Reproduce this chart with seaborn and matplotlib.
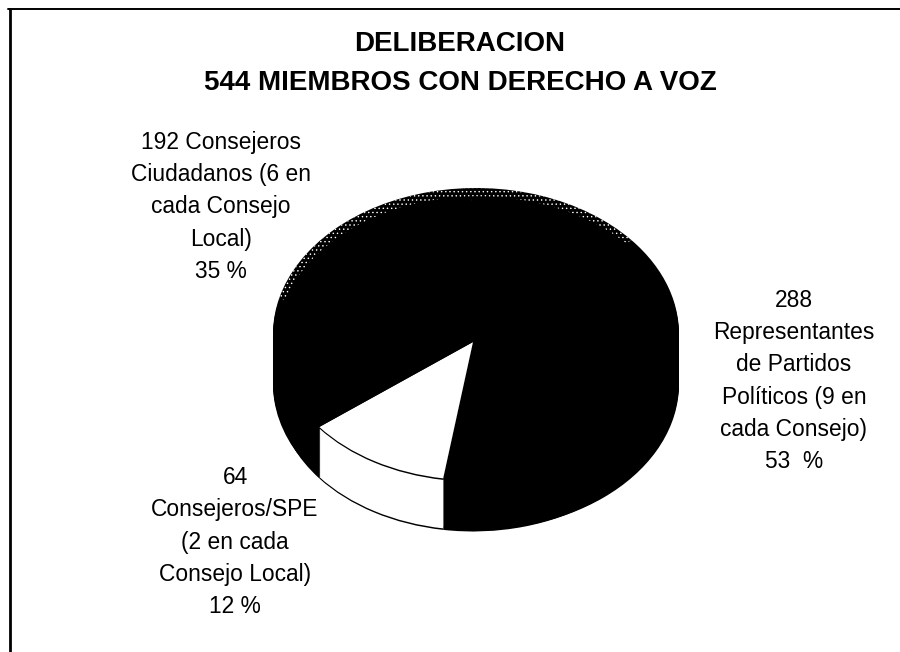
"""
Deliberacion 3D pie chart, members with voice in the local councils.
"""

import matplotlib.pyplot as plt
import seaborn as sns

# Data
shares = [53, 12, 35]
labels = [
    "288\nRepresentantes\nde Partidos\nPolíticos (9 en\ncada Consejo)\n53  %",
    "64\nConsejeros/SPE\n(2 en cada\nConsejo Local)\n12 %",
    "192 Consejeros\nCiudadanos (6 en\ncada Consejo\nLocal)\n35 %",
]
title_lines = ["DELIBERACION", "544 MIEMBROS CON DERECHO A VOZ"]

WIDTH, HEIGHT = 900, 652
slice_colors = ["black", "white", "black"]
all_black = ["black"] * 3

sns.set_theme(style="white")
plt.rcParams["font.family"] = ["Liberation Sans", "DejaVu Sans"]
plt.rcParams["hatch.linewidth"] = 0.5


def squashed_axes(fig, rx, ry):
    # full-figure axes in pixels, y stretched so a circle of radius rx looks like an ellipse
    ax = fig.add_axes([0, 0, 1, 1], facecolor="none")
    ax.squash = ry / rx
    return ax


def to_y(ax, py):
    return (HEIGHT - py) / ax.squash


def draw_pie(ax, cx, cy, rx, colors, **kwargs):
    wedge = kwargs.pop("wedgeprops", {"linewidth": 0})
    ax.pie(shares, colors=colors, startangle=kwargs.pop("startangle", 92),
           counterclock=kwargs.pop("counterclock", False),
           center=(cx, to_y(ax, cy)), radius=rx, wedgeprops=wedge, **kwargs)


def fix_limits(ax):
    ax.set_aspect("auto")
    ax.set_xlim(0, WIDTH)
    ax.set_ylim(0, HEIGHT / ax.squash)
    ax.axis("off")


fig = plt.figure(figsize=(WIDTH / 100, HEIGHT / 100), dpi=100, facecolor="white")

# Body of the pie, a little taller than the front because of the perspective
body = squashed_axes(fig, 203, 146)
for depth in range(50, 1, -2):
    draw_pie(body, 476, 334 + depth, 203, all_black)
# speckled back rim, only the last wedge is hatched
draw_pie(body, 476, 334, 203, all_black, startangle=166, counterclock=True,
         hatch=[None, None, "...."],
         wedgeprops={"linewidth": 0, "edgecolor": "white"})
draw_pie(body, 478, 341, 201, all_black)
fix_limits(body)

# Front part, carries the slices
front = squashed_axes(fig, 195, 138)
draw_pie(front, 473, 393.5, 195, all_black)  # peeks out as the lower outline
for depth in range(50, 1, -1):
    draw_pie(front, 473, 342 + depth, 195, slice_colors)
draw_pie(front, 473, 343.5, 195, all_black)  # upper outline
draw_pie(front, 473, 342, 195, slice_colors)
fix_limits(front)

# Frame and text on a plain pixel axes
page = fig.add_axes([0, 0, 1, 1], facecolor="none")
page.set_xlim(0, WIDTH)
page.set_ylim(HEIGHT, 0)
page.axis("off")
page.plot([9.5, 9.5], [652, 9], color="black", lw=2)
page.plot([8, 900], [9, 9], color="black", lw=1.4)

page.text(460, 44, title_lines[0], ha="center", va="center", fontsize=20, fontweight="bold", color="black")
page.text(460, 83, title_lines[1], ha="center", va="center", fontsize=20, fontweight="bold", color="black")

label_pos = [(794, 381), (235, 542), (221, 207)]
for label, (x, y) in zip(labels, label_pos):
    page.text(x, y, label, ha="center", va="center", fontsize=16.4, linespacing=1.51, color="black")

fig.savefig("out.png", dpi=100)
plt.close(fig)
